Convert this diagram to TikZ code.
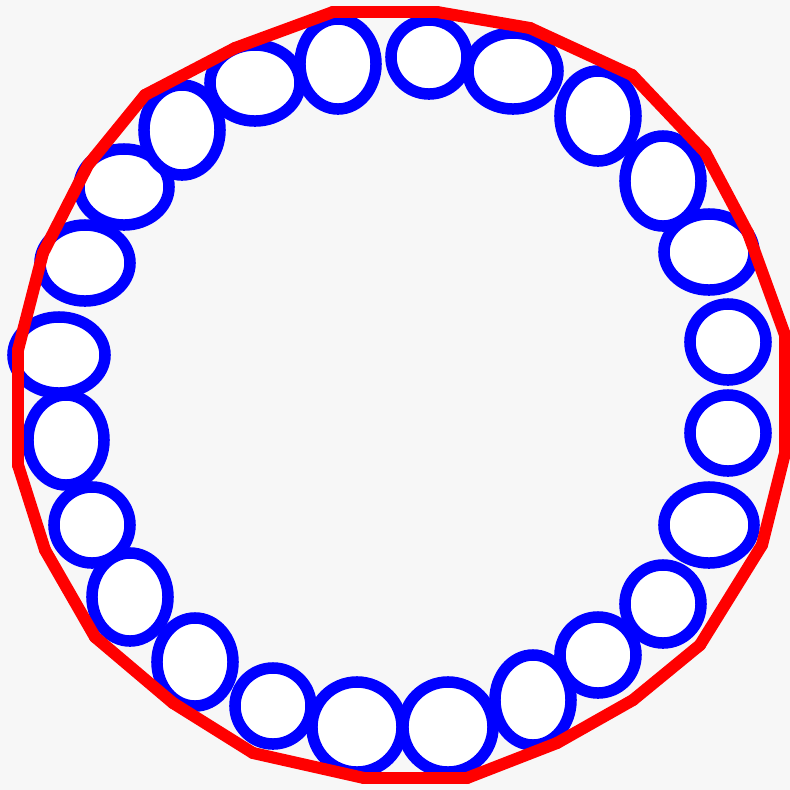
\documentclass[tikz,border=0pt]{standalone}
\usepackage{tikz}
\usetikzlibrary{shapes.geometric}

\begin{document}
\begin{tikzpicture}[
  x=0.01cm, y=-0.01cm,
  bead/.style={ellipse, draw=blue, fill=white, line width=1.15mm, inner sep=0pt},
  rim/.style={draw=red, line width=1.2mm, line cap=round, line join=miter}
]
  \fill[black!3] (0,0) rectangle (790,790);
  \useasboundingbox (0,0) rectangle (790,790);

  % ring of beads
  \foreach \x/\y/\w/\h [count=\i] in {
      429/57/7.6/7.4, 513/71/9.0/7.6, 598/116/7.6/9.0, 663/181/7.6/9.0,
      709/252/9.0/7.6, 728/342/7.6/7.6, 728/433/7.6/7.6, 709/525/9.0/7.6,
      663/604/7.6/7.8, 598/655/7.6/7.6, 533/700/7.6/9.0, 448/727/9.0/9.0,
      357/727/9.0/9.0, 273/706/7.6/7.6, 195/662/7.6/8.8, 130/597/7.6/8.8,
      92/525/7.6/7.6, 66/440/7.6/9.0, 59/355/9.2/7.6, 85/263/9.0/7.6,
      124/187/9.0/7.6, 182/130/7.6/9.0, 255/83/9.0/7.6, 338/64/7.6/9.0}
    \node[bead, minimum width=\w mm, minimum height=\h mm] (bead\i) at (\x,\y) {};

  % outer rim corners
  \foreach \x/\y [count=\i] in {
      333/12, 437/12, 530/28, 632/75, 705/152, 748/233, 785/335, 785/453,
      762/545, 700/645, 633/700, 557/743, 467/778, 364/778, 253/753, 173/703,
      95/637, 45/550, 18/465, 18/350, 43/253, 88/165, 145/95, 235/48}
    \coordinate (rim\i) at (\x,\y);

  \foreach \i [remember=\i as \j (initially 24)] in {1,...,24}
    \draw[rim] (rim\j) -- (rim\i);
\end{tikzpicture}
\end{document}
